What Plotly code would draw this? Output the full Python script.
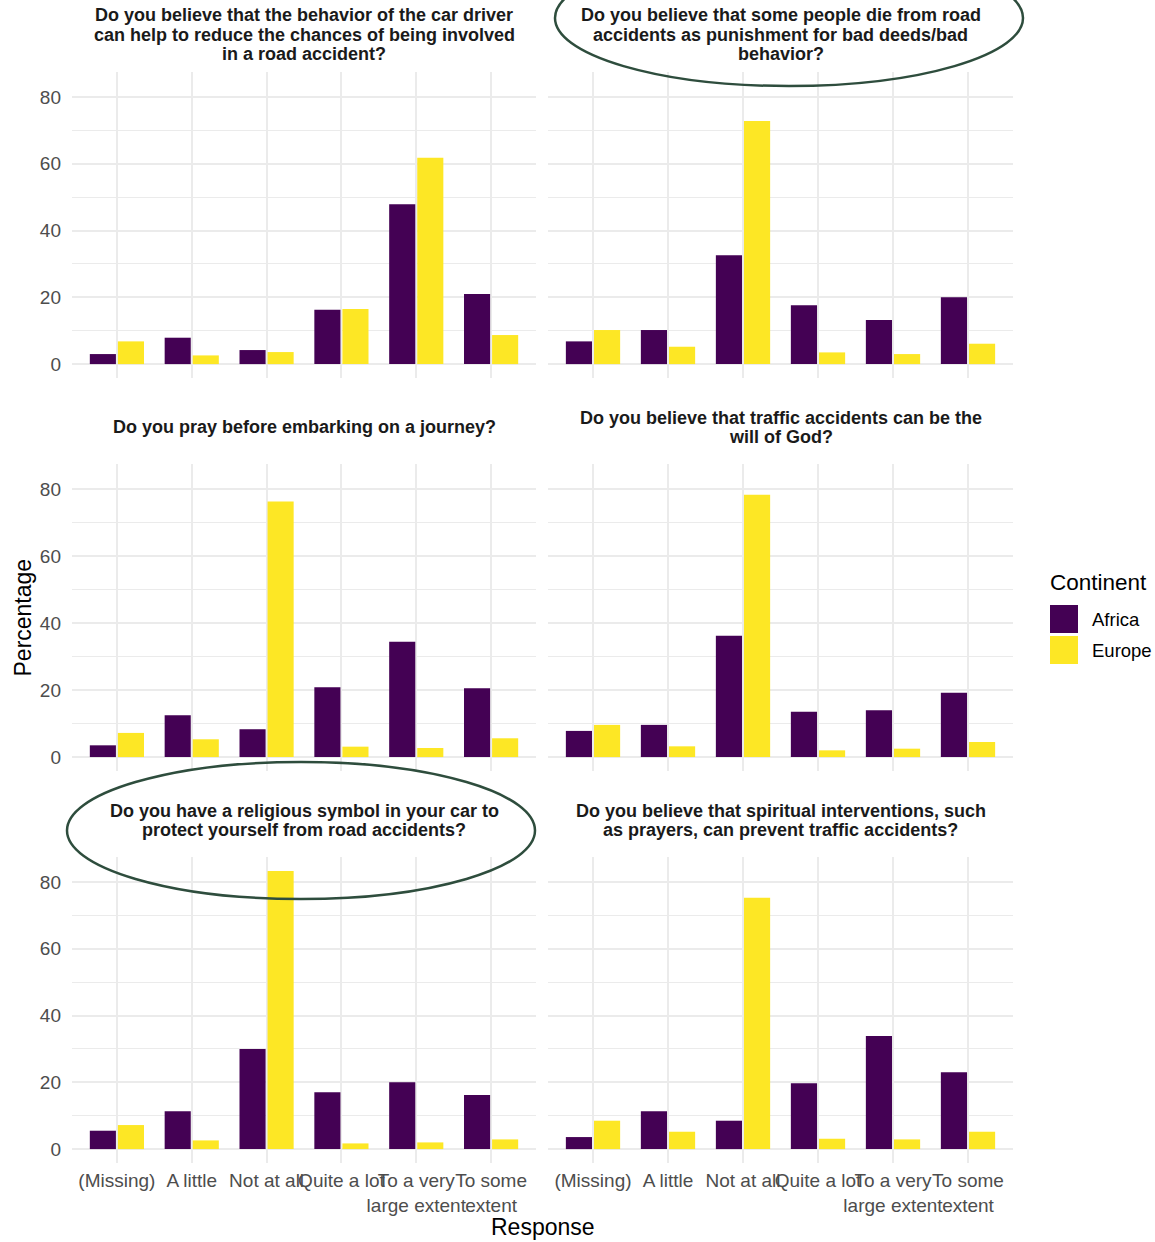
import plotly.graph_objects as go

# ---------------- data ----------------
categories = ["(Missing)", "A little", "Not at all", "Quite a lot",
              "To a very large extent", "To some extent"]
tick_labels = ["(Missing)", "A little", "Not at all", "Quite a lot",
               "To a very<br>large extent", "To some<br>extent"]
continents = ["Africa", "Europe"]
continent_colors = ["#440154", "#FDE725"]

questions = [
    ["Do you believe that the behavior of the car driver",
     "can help to reduce the chances of being involved",
     "in a road accident?"],
    ["Do you believe that some people die from road",
     "accidents as punishment for bad deeds/bad",
     "behavior?"],
    ["Do you pray before embarking on a journey?"],
    ["Do you believe that traffic accidents can be the",
     "will of God?"],
    ["Do you have a religious symbol in your car to",
     "protect yourself from road accidents?"],
    ["Do you believe that spiritual interventions, such",
     "as prayers, can prevent traffic accidents?"],
]

q1_africa = [3.0, 7.9, 4.2, 16.3, 47.9, 21.0]
q1_europe = [6.8, 2.6, 3.6, 16.5, 61.8, 8.7]
q2_africa = [6.8, 10.2, 32.6, 17.6, 13.2, 20.0]
q2_europe = [10.2, 5.2, 72.8, 3.5, 3.0, 6.1]
q3_africa = [3.5, 12.5, 8.3, 20.8, 34.4, 20.5]
q3_europe = [7.2, 5.3, 76.3, 3.1, 2.7, 5.6]
q4_africa = [7.8, 9.6, 36.2, 13.5, 14.0, 19.2]
q4_europe = [9.6, 3.2, 78.3, 2.0, 2.5, 4.5]
q5_africa = [5.5, 11.3, 30.0, 17.0, 20.0, 16.2]
q5_europe = [7.2, 2.6, 83.3, 1.7, 2.0, 2.9]
q6_africa = [3.6, 11.3, 8.5, 19.7, 33.9, 23.0]
q6_europe = [8.5, 5.2, 75.3, 3.1, 2.9, 5.2]

y_ticks = [0, 20, 40, 60, 80]

panels = [
    (q1_africa, q1_europe), (q2_africa, q2_europe),
    (q3_africa, q3_europe), (q4_africa, q4_europe),
    (q5_africa, q5_europe), (q6_africa, q6_europe),
]

# ---------------- layout geometry ----------------
W, H = 1155, 1242
FONT = "Liberation Sans, Arial, sans-serif"
col_px = [(72, 536), (548, 1013)]
row_px = [(72, 378), (464, 771), (857, 1163)]
strip_center_px = [34.5, 427.5, 820.5]
LINE_STEP = 19.5
ymax = max(max(a + e) for a, e in panels)
y_range = [-0.05 * ymax, ymax * 1.05]


def px_x(p):
    return p / W


def px_y(p):
    return 1 - p / H


fig = go.Figure()
layout = dict(
    width=W, height=H,
    margin=dict(l=0, r=0, t=0, b=0),
    paper_bgcolor="white", plot_bgcolor="white",
    barmode="group", bargap=0.25, bargroupgap=0.07,
    showlegend=False,
    font=dict(family=FONT, color="#4D4D4D"),
)

annotations = []
shapes = []

for i, (afr, eur) in enumerate(panels):
    r, c = divmod(i, 2)
    idx = i + 1
    xa = "x" if idx == 1 else f"x{idx}"
    ya = "y" if idx == 1 else f"y{idx}"
    for name, vals, col in zip(continents, (afr, eur), continent_colors):
        fig.add_trace(go.Bar(
            x=categories, y=vals, name=name,
            marker=dict(color=col, line=dict(width=0)),
            xaxis=xa, yaxis=ya, offsetgroup=name, showlegend=False,
        ))
    x0, x1 = col_px[c]
    y0, y1 = row_px[r]
    layout["xaxis" if idx == 1 else f"xaxis{idx}"] = dict(
        domain=[px_x(x0), px_x(x1)], anchor=ya,
        type="category", categoryorder="array", categoryarray=categories,
        range=[-0.6, len(categories) - 0.4],
        tickvals=categories, ticktext=tick_labels,
        showticklabels=(r == 2), tickangle=0,
        showgrid=True, gridcolor="#EBEBEB", gridwidth=2,
        showline=False, zeroline=False, ticks="",
        tickfont=dict(size=19, color="#4D4D4D", family=FONT),
        ticklabelstandoff=4,
    )
    layout["yaxis" if idx == 1 else f"yaxis{idx}"] = dict(
        domain=[px_y(y1), px_y(y0)], anchor=xa,
        range=y_range, tickvals=y_ticks,
        showticklabels=(c == 0),
        showgrid=True, gridcolor="#EBEBEB", gridwidth=2,
        minor=dict(dtick=10, tick0=0, showgrid=True, gridcolor="#EBEBEB", gridwidth=1),
        showline=False, zeroline=False, ticks="",
        tickfont=dict(size=19, color="#4D4D4D", family=FONT),
        ticklabelstandoff=10,
    )
    lines = questions[i]
    n = len(lines)
    for k, line in enumerate(lines):
        yc = strip_center_px[r] + (k - (n - 1) / 2) * LINE_STEP
        annotations.append(dict(
            text="<b>" + line + "</b>", xref="paper", yref="paper",
            x=px_x((x0 + x1) / 2), y=px_y(yc),
            xanchor="center", yanchor="middle", showarrow=False, align="center",
            font=dict(size=18, color="#1A1A1A", family=FONT),
        ))

# axis titles
annotations.append(dict(
    text="Response", xref="paper", yref="paper",
    x=px_x((col_px[0][0] + col_px[1][1]) / 2), y=px_y(1227),
    xanchor="center", yanchor="middle", showarrow=False,
    font=dict(size=23, color="black", family=FONT),
))
annotations.append(dict(
    text="Percentage", xref="paper", yref="paper",
    x=px_x(22), y=px_y((row_px[0][0] + row_px[2][1]) / 2),
    xanchor="center", yanchor="middle", showarrow=False, textangle=-90,
    font=dict(size=23, color="black", family=FONT),
))

# legend (manual, ggplot style)
annotations.append(dict(
    text="Continent", xref="paper", yref="paper",
    x=px_x(1048), y=px_y(582), xanchor="left", yanchor="middle", showarrow=False,
    font=dict(size=22.5, color="black", family=FONT),
))
key_tops = [605, 636]
for name, col, top in zip(continents, continent_colors, key_tops):
    shapes.append(dict(
        type="rect", xref="paper", yref="paper",
        x0=px_x(1050), x1=px_x(1078), y0=px_y(top + 28), y1=px_y(top),
        fillcolor=col, line=dict(width=0),
    ))
    annotations.append(dict(
        text=name, xref="paper", yref="paper",
        x=px_x(1090), y=px_y(top + 14), xanchor="left", yanchor="middle", showarrow=False,
        font=dict(size=18.5, color="black", family=FONT),
    ))

# highlight ellipses
ellipse_color = "#2E4D3D"
shapes.append(dict(
    type="circle", xref="paper", yref="paper",
    x0=px_x(555), x1=px_x(1023), y0=px_y(86), y1=px_y(-50),
    line=dict(color=ellipse_color, width=2.5), fillcolor="rgba(0,0,0,0)", layer="above",
))
shapes.append(dict(
    type="circle", xref="paper", yref="paper",
    x0=px_x(67), x1=px_x(535), y0=px_y(899), y1=px_y(762),
    line=dict(color=ellipse_color, width=2.5), fillcolor="rgba(0,0,0,0)", layer="above",
))

layout["annotations"] = annotations
layout["shapes"] = shapes
fig.update_layout(**layout)

fig.write_html(
    "out.html",
    config={"displayModeBar": False},
    post_script="document.body.style.margin='0px';document.body.style.padding='0px';"
                "document.documentElement.style.overflow='hidden';",
)
